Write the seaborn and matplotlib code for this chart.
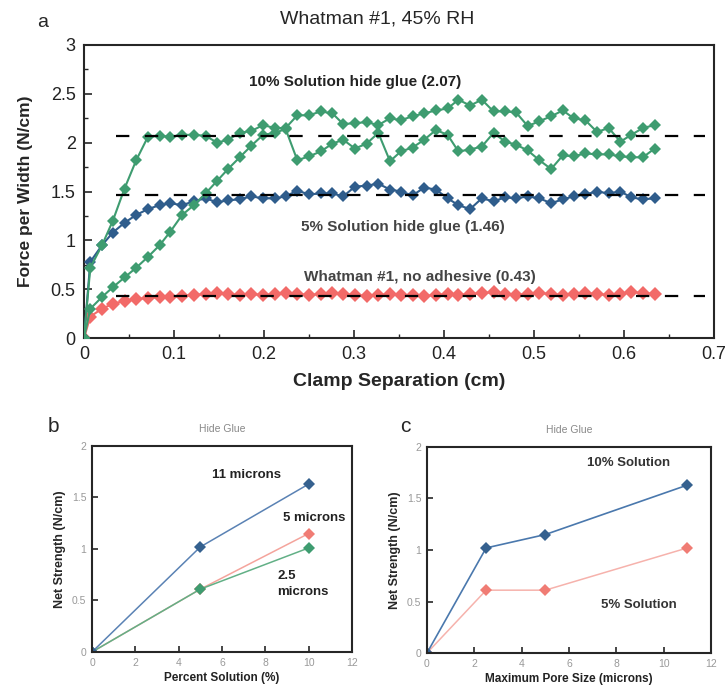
import matplotlib.pyplot as plt
import seaborn as sns

# panel a: force per width vs clamp separation
sep = [0.000, 0.007, 0.020, 0.032, 0.045, 0.058, 0.071, 0.084, 0.096, 0.109,
       0.122, 0.135, 0.148, 0.160, 0.173, 0.186, 0.199, 0.212, 0.224, 0.237,
       0.250, 0.263, 0.276, 0.288, 0.301, 0.314, 0.327, 0.340, 0.352, 0.365,
       0.378, 0.391, 0.404, 0.416, 0.429, 0.442, 0.455, 0.468, 0.480, 0.493,
       0.506, 0.519, 0.532, 0.544, 0.557, 0.570, 0.583, 0.596, 0.608, 0.621,
       0.634]
glue10_run1 = [0.00, 0.72, 0.95, 1.20, 1.53, 1.82, 2.06, 2.07, 2.06, 2.08,
               2.08, 2.07, 2.00, 2.03, 2.10, 2.12, 2.18, 2.15, 2.15, 2.28,
               2.28, 2.32, 2.30, 2.19, 2.20, 2.21, 2.18, 2.25, 2.23, 2.27,
               2.30, 2.33, 2.35, 2.44, 2.38, 2.44, 2.32, 2.32, 2.31, 2.17,
               2.22, 2.27, 2.33, 2.25, 2.23, 2.11, 2.15, 2.01, 2.08, 2.15,
               2.18]
glue10_run2 = [0.00, 0.30, 0.42, 0.52, 0.62, 0.72, 0.83, 0.95, 1.09, 1.26,
               1.36, 1.48, 1.61, 1.73, 1.85, 1.97, 2.08, 2.10, 2.14, 1.82,
               1.86, 1.91, 1.99, 2.03, 1.94, 1.99, 2.10, 1.81, 1.91, 1.95,
               2.03, 2.13, 2.08, 1.91, 1.93, 1.96, 2.10, 2.01, 1.98, 1.92,
               1.82, 1.73, 1.87, 1.86, 1.89, 1.88, 1.88, 1.86, 1.85, 1.85,
               1.94]
glue5 = [0.00, 0.78, 0.95, 1.08, 1.18, 1.26, 1.32, 1.36, 1.38, 1.36,
         1.40, 1.43, 1.39, 1.41, 1.42, 1.45, 1.43, 1.43, 1.45, 1.51,
         1.47, 1.48, 1.48, 1.45, 1.55, 1.56, 1.58, 1.52, 1.50, 1.46,
         1.54, 1.52, 1.43, 1.36, 1.32, 1.43, 1.40, 1.44, 1.43, 1.45,
         1.43, 1.38, 1.42, 1.45, 1.47, 1.50, 1.48, 1.50, 1.44, 1.42,
         1.43]
no_adhesive = [0.00, 0.22, 0.30, 0.35, 0.38, 0.40, 0.41, 0.42, 0.42, 0.43,
               0.44, 0.45, 0.46, 0.45, 0.44, 0.45, 0.44, 0.45, 0.46, 0.45,
               0.44, 0.45, 0.46, 0.45, 0.44, 0.43, 0.44, 0.45, 0.44, 0.44,
               0.43, 0.44, 0.45, 0.44, 0.45, 0.46, 0.47, 0.45, 0.44, 0.45,
               0.46, 0.45, 0.44, 0.45, 0.46, 0.45, 0.44, 0.45, 0.47, 0.46,
               0.45]
mean_levels = [2.07, 1.46, 0.43]

# panel b: net strength vs percent solution
pct_solution = [0, 5, 10]
net_11um = [0, 1.02, 1.63]
net_5um = [0, 0.61, 1.15]
net_2p5um = [0, 0.61, 1.01]

# panel c: net strength vs pore size
pore_size = [0, 2.5, 5, 11]
net_10pct = [0, 1.02, 1.15, 1.63]
net_5pct = [0, 0.61, 0.61, 1.02]

GREEN = '#3e9c70'
BLUE = '#2f5d8c'
RED = '#f26a68'

sns.set_style('ticks')
plt.rcParams['font.family'] = ['Liberation Sans', 'DejaVu Sans']
plt.rcParams['xtick.direction'] = 'in'
plt.rcParams['ytick.direction'] = 'in'

fig = plt.figure(figsize=(7.28, 6.9), dpi=100)

# ---- panel a
ax = fig.add_axes([0.1154, 0.5101, 0.8654, 0.4247])
sns.lineplot(x=sep, y=no_adhesive, ax=ax, color=RED, marker='D', markersize=7,
             markeredgewidth=0, linewidth=1.5, zorder=2)
sns.lineplot(x=sep, y=glue5, ax=ax, color=BLUE, marker='D', markersize=6,
             markeredgewidth=0, linewidth=1.5, zorder=3)
sns.lineplot(x=sep, y=glue10_run2, ax=ax, color=GREEN, marker='D', markersize=6,
             markeredgewidth=0, linewidth=1.5, zorder=3)
sns.lineplot(x=sep, y=glue10_run1, ax=ax, color=GREEN, marker='D', markersize=6,
             markeredgewidth=0, linewidth=1.5, zorder=3)
ax.hlines(mean_levels, 0.035, 0.69, colors='black', linestyles=(0, (6, 7)),
          linewidth=1.6, zorder=5)

ax.set_xlim(0, 0.7)
ax.set_ylim(0, 3)
ax.set_xticks([0, 0.1, 0.2, 0.3, 0.4, 0.5, 0.6, 0.7])
ax.set_xticklabels(['0', '0.1', '0.2', '0.3', '0.4', '0.5', '0.6', '0.7'])
ax.set_yticks([0, 0.5, 1, 1.5, 2, 2.5, 3])
ax.set_yticklabels(['0', '0.5', '1', '1.5', '2', '2.5', '3'])
ax.set_xticks([0.05, 0.15, 0.25, 0.35, 0.45, 0.55, 0.65], minor=True)
ax.set_yticks([0.25, 0.75, 1.25, 1.75, 2.25, 2.75], minor=True)
ax.tick_params(which='major', length=6, width=1.2, labelsize=13, labelcolor='#222', pad=6)
ax.tick_params(which='minor', length=3, width=1)
for s in ax.spines.values():
    s.set_linewidth(1.5)
ax.set_xlabel('Clamp Separation (cm)', fontsize=14, fontweight='bold', labelpad=7)
ax.set_ylabel('Force per Width (N/cm)', fontsize=12.5, fontweight='bold', labelpad=13)

ax.text(0.301, 2.62, '10% Solution hide glue (2.07)', ha='center', va='center',
        fontsize=11, fontweight='bold', color='#222')
ax.text(0.354, 1.14, '5% Solution hide glue (1.46)', ha='center', va='center',
        fontsize=11, fontweight='bold', color='#444')
ax.text(0.373, 0.62, 'Whatman #1, no adhesive (0.43)', ha='center', va='center',
        fontsize=11, fontweight='bold', color='#444')

fig.text(0.518, 0.973, 'Whatman #1, 45% RH', ha='center', va='center', fontsize=14)
fig.text(0.058, 0.968, 'a', ha='center', va='center', fontsize=14)


def style_small(axs, xlabel):
    axs.set_xlim(0, 12)
    axs.set_ylim(0, 2)
    axs.set_xticks([0, 2, 4, 6, 8, 10, 12])
    axs.set_yticks([0, 0.5, 1, 1.5, 2])
    axs.set_yticklabels(['0', '0.5', '1', '1.5', '2'])
    axs.tick_params(length=4, width=1.2, labelsize=7.5, labelcolor='#999', pad=4)
    for s in axs.spines.values():
        s.set_linewidth(1.5)
    axs.set_title('Hide Glue', fontsize=7.5, color='#888', pad=10)
    axs.set_xlabel(xlabel, fontsize=8.5, fontweight='bold', color='#222', labelpad=3)
    axs.set_ylabel('Net Strength (N/cm)', fontsize=9, fontweight='bold', labelpad=4)


# ---- panel b
axb = fig.add_axes([0.1264, 0.0551, 0.3571, 0.2986])
sns.lineplot(x=pct_solution, y=net_5um, ax=axb, color='#f4a49c', marker='D',
             markersize=6, markeredgewidth=0, markerfacecolor='#f07c74', linewidth=1.1)
sns.lineplot(x=pct_solution, y=net_2p5um, ax=axb, color='#62b086', marker='D',
             markersize=6, markeredgewidth=0, markerfacecolor='#3e9c70', linewidth=1.1)
sns.lineplot(x=pct_solution, y=net_11um, ax=axb, color='#5a82b4', marker='D',
             markersize=6, markeredgewidth=0, markerfacecolor='#35618f', linewidth=1.1)
style_small(axb, 'Percent Solution (%)')
axb.text(7.15, 1.72, '11 microns', ha='center', va='center', fontsize=9.5, fontweight='bold', color='#222')
axb.text(10.25, 1.30, '5 microns', ha='center', va='center', fontsize=9.5, fontweight='bold', color='#222')
axb.text(8.55, 0.66, '2.5\nmicrons', ha='left', va='center', fontsize=9.5, fontweight='bold',
         color='#222', linespacing=1.35)
fig.text(0.074, 0.374, 'b', ha='center', va='baseline', fontsize=15)

# ---- panel c
axc = fig.add_axes([0.5865, 0.0536, 0.3901, 0.2986])
sns.lineplot(x=pore_size, y=net_5pct, ax=axc, color='#f6b2ac', marker='D',
             markersize=6, markeredgewidth=0, markerfacecolor='#f07c74', linewidth=1.1)
sns.lineplot(x=pore_size, y=net_10pct, ax=axc, color='#4a78ad', marker='D',
             markersize=6, markeredgewidth=0, markerfacecolor='#35618f', linewidth=1.2)
style_small(axc, 'Maximum Pore Size (microns)')
axc.text(8.5, 1.84, '10% Solution', ha='center', va='center', fontsize=9.5, fontweight='bold', color='#333')
axc.text(8.95, 0.47, '5% Solution', ha='center', va='center', fontsize=9.5, fontweight='bold', color='#333')
fig.text(0.557, 0.374, 'c', ha='center', va='baseline', fontsize=15)

fig.savefig('out.png', dpi=100)
